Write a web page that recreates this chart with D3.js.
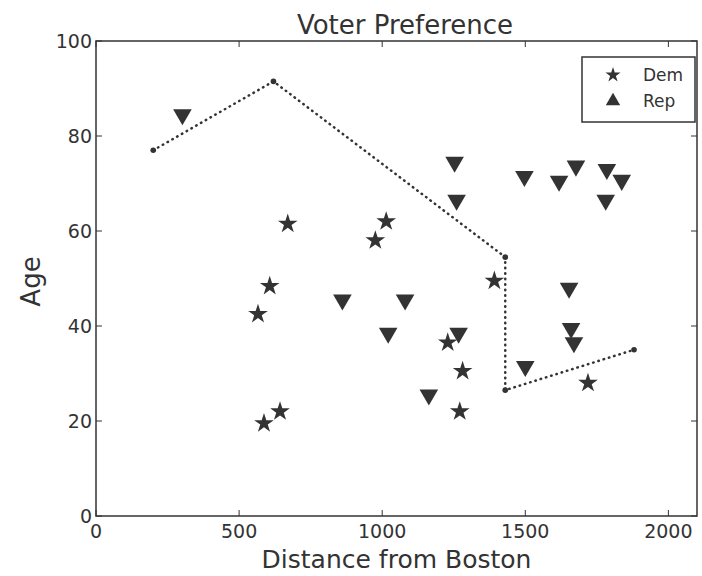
<!DOCTYPE html>
<html>
  <head>
    <meta charset="utf-8"/>
    <title>Voter Preference</title>
    <style type="text/css">
body {
  margin: 0;
  background: #fff;
}
svg text {
  font-family: "DejaVu Sans", sans-serif;
  fill: #333;
}
    </style>
  </head>
  <body>
    <div id="chart"></div>

    <script src="https://cdn.jsdelivr.net/npm/d3@7"></script>
    <script>
    // values
    const demX = [670, 607, 566, 587, 643, 1014, 976, 1392, 1229, 1281, 1271, 1719];
    const demY = [61.5, 48.4, 42.5, 19.5, 22, 62, 58, 49.5, 36.5, 30.5, 22, 28];

    const repX = [302, 1253, 1260, 1497, 1618, 1677, 1785, 1837, 1781, 861, 1080,
                  1021, 1267, 1163, 1500, 1660, 1670, 1653];
    const repY = [84.5, 74.5, 66.5, 71.5, 70.5, 73.7, 73, 70.7, 66.5, 45.5, 45.5,
                  38.5, 38.5, 25.5, 31.5, 39.5, 36.5, 48];

    const lineX = [200, 620, 1430, 1430, 1880];
    const lineY = [77, 91.5, 54.5, 26.5, 35];

    const xTicks = [0, 500, 1000, 1500, 2000];
    const yTicks = [0, 20, 40, 60, 80, 100];
    const legendLabels = ["Dem", "Rep"];

    const width = 702, height = 576;
    const plotLeft = 96, plotRight = 697, plotTop = 41, plotBottom = 516;
    const ink = "#333";

    const svg = d3.select("#chart").append("svg")
        .attr("width", width)
        .attr("height", height);

    const x = d3.scaleLinear().domain([0, 2100]).range([plotLeft, plotRight]);
    const y = d3.scaleLinear().domain([0, 100]).range([plotBottom, plotTop]);

    // frame
    svg.append("rect")
      .attr("x", plotLeft)
      .attr("y", plotTop)
      .attr("width", plotRight - plotLeft)
      .attr("height", plotBottom - plotTop)
      .style("fill", "none")
      .style("stroke", ink)
      .style("stroke-width", 1.5);

    // ticks on all sides, pointing in (classic matplotlib)
    const tickLen = 6;
    const xAxis = svg.append("g");
    xAxis.selectAll(".xtb").data(xTicks).enter().append("line")
      .attr("x1", d => x(d)).attr("x2", d => x(d))
      .attr("y1", plotBottom).attr("y2", plotBottom - tickLen)
      .style("stroke", ink);
    xAxis.selectAll(".xtt").data(xTicks).enter().append("line")
      .attr("x1", d => x(d)).attr("x2", d => x(d))
      .attr("y1", plotTop).attr("y2", plotTop + tickLen)
      .style("stroke", ink);
    xAxis.selectAll("text").data(xTicks).enter().append("text")
      .attr("x", d => x(d))
      .attr("y", plotBottom + 22)
      .attr("text-anchor", "middle")
      .style("font-size", "19px")
      .text(d => d);

    const yAxis = svg.append("g");
    yAxis.selectAll(".ytl").data(yTicks).enter().append("line")
      .attr("x1", plotLeft).attr("x2", plotLeft + tickLen)
      .attr("y1", d => y(d)).attr("y2", d => y(d))
      .style("stroke", ink);
    yAxis.selectAll(".ytr").data(yTicks).enter().append("line")
      .attr("x1", plotRight).attr("x2", plotRight - tickLen)
      .attr("y1", d => y(d)).attr("y2", d => y(d))
      .style("stroke", ink);
    yAxis.selectAll("text").data(yTicks).enter().append("text")
      .attr("x", plotLeft - 4)
      .attr("y", d => y(d) + 7)
      .attr("text-anchor", "end")
      .style("font-size", "19px")
      .text(d => d);

    // titles
    svg.append("text")
      .attr("x", 405)
      .attr("y", 34)
      .attr("text-anchor", "middle")
      .style("font-size", "26px")
      .text("Voter Preference");

    svg.append("text")
      .attr("x", (plotLeft + plotRight) / 2)
      .attr("y", 568)
      .attr("text-anchor", "middle")
      .style("font-size", "25px")
      .text("Distance from Boston");

    svg.append("text")
      .attr("transform", "translate(40," + (y(50) + 3) + ") rotate(-90)")
      .attr("text-anchor", "middle")
      .style("font-size", "26px")
      .text("Age");

    // dotted line
    const lineData = lineX.map((d, i) => [d, lineY[i]]);
    svg.append("path")
      .datum(lineData)
      .attr("d", d3.line().x(d => x(d[0])).y(d => y(d[1])))
      .style("fill", "none")
      .style("stroke", ink)
      .style("stroke-width", 2.5)
      .style("stroke-linecap", "round")
      .style("stroke-dasharray", "0.5,5");

    svg.selectAll(".vertex")
      .data(lineData)
      .enter()
      .append("circle")
      .attr("cx", d => x(d[0]))
      .attr("cy", d => y(d[1]))
      .attr("r", 2.8)
      .style("fill", ink);

    const star = d3.symbol().type(d3.symbolStar).size(120);
    const tri = d3.symbol().type(d3.symbolTriangle).size(150);

    svg.selectAll(".dem")
      .data(demX.map((d, i) => [d, demY[i]]))
      .enter()
      .append("path")
      .attr("d", star)
      .attr("transform", d => "translate(" + x(d[0]) + "," + y(d[1]) + ")")
      .style("fill", ink);

    svg.selectAll(".rep")
      .data(repX.map((d, i) => [d, repY[i]]))
      .enter()
      .append("path")
      .attr("d", tri)
      .attr("transform", d => "translate(" + x(d[0]) + "," + y(d[1]) + ") rotate(180)")
      .style("fill", ink);

    // legend (note: legend uses an upward triangle)
    const legend = svg.append("g");
    legend.append("rect")
      .attr("x", 582).attr("y", 57)
      .attr("width", 113).attr("height", 65)
      .style("fill", "#fff")
      .style("stroke", ink)
      .style("stroke-width", 1.5);

    legendLabels.forEach((label, i) => {
      const cy = 75 + i * 26;
      legend.append("path")
        .attr("d", i === 0 ? d3.symbol().type(d3.symbolStar).size(70)()
                           : d3.symbol().type(d3.symbolTriangle).size(90)())
        .attr("transform", "translate(613," + cy + ")")
        .style("fill", ink);
      legend.append("text")
        .attr("x", 643)
        .attr("y", cy + 6)
        .style("font-size", "17px")
        .text(label);
    });
    </script>
  </body>
</html>
